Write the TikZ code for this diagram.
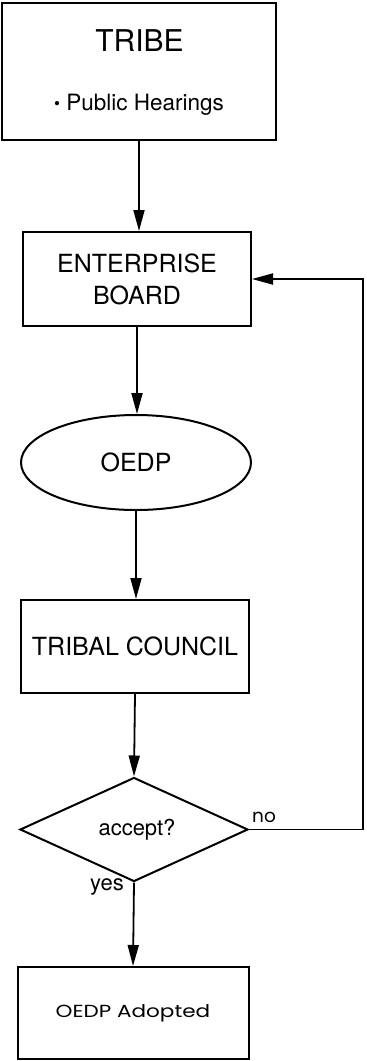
\documentclass[tikz,border=0pt]{standalone}
\usepackage{fontspec}
\setmainfont{TeX Gyre Heros}
\newfontfamily\geofont{Poppins}
\usetikzlibrary{arrows.meta,shapes.geometric}

\tikzset{
  stage/.style={draw, line width=2pt, inner sep=0pt, align=center},
  flow/.style={line width=1.8pt, -{Triangle[length=21pt,width=11pt]}},
  big/.style={font=\fontsize{25}{32}\selectfont},
}

\begin{document}
\begin{tikzpicture}[x=1pt,y=-1pt]
  \useasboundingbox (0,0) rectangle (367,1061);

  % Tribe with its public hearings
  \node[stage, minimum width=274pt, minimum height=137pt] (tribe) at (139,71.5) {};
  \node[anchor=base, font=\fontsize{30}{30}\selectfont] (tribetitle) at (139.5,51) {TRIBE};
  \node[anchor=base, font=\fontsize{22.5}{24}\selectfont] (tribeitem) at (139,110)
    {\raisebox{1pt}{\fontsize{17}{17}\selectfont\textbullet}\ Public Hearings};

  % Main chain
  \node[stage, big, minimum width=228pt, minimum height=94pt] (board) at (137,279) {ENTERPRISE\\BOARD};
  \node[stage, big, ellipse, minimum width=230pt, minimum height=95pt] (oedp) at (136,462.5) {OEDP};
  \node[stage, big, minimum width=228pt, minimum height=93pt] (council) at (135,646.5) {TRIBAL COUNCIL};
  \node[stage, diamond, font=\fontsize{22}{24}\selectfont, minimum width=228pt, minimum height=89pt] (decide) at (134,829.5) {\hspace*{6pt}accept?};
  \node[stage, font=\geofont\fontsize{17.5}{20}\selectfont, minimum width=231pt, minimum height=92pt] (adopted) at (133,1013) {\scalebox{1.23}[1]{OEDP Adopted}};

  \draw[flow] (tribe.south) -- (tribe.south |- board.north);
  \draw[flow] (board.south) -- (board.south |- oedp.north);
  \draw[flow] (oedp.south) -- (oedp.south |- council.north);
  \draw[flow] (council.south) -- (decide.north);
  \draw[flow] (decide.south) -- (adopted.north);

  % Rejection loops back to the board
  \coordinate (loopcorner) at (363,829.5);
  \draw[flow] (decide.east) -- (loopcorner) |- (board.east);

  \node[anchor=base west, inner sep=0pt, font=\geofont\fontsize{18.5}{20}\selectfont] (nolabel) at (252,822.5) {no};
  \node[anchor=base east, inner sep=0pt, font=\fontsize{22}{24}\selectfont] (yeslabel) at (124,890) {yes};
\end{tikzpicture}
\end{document}
